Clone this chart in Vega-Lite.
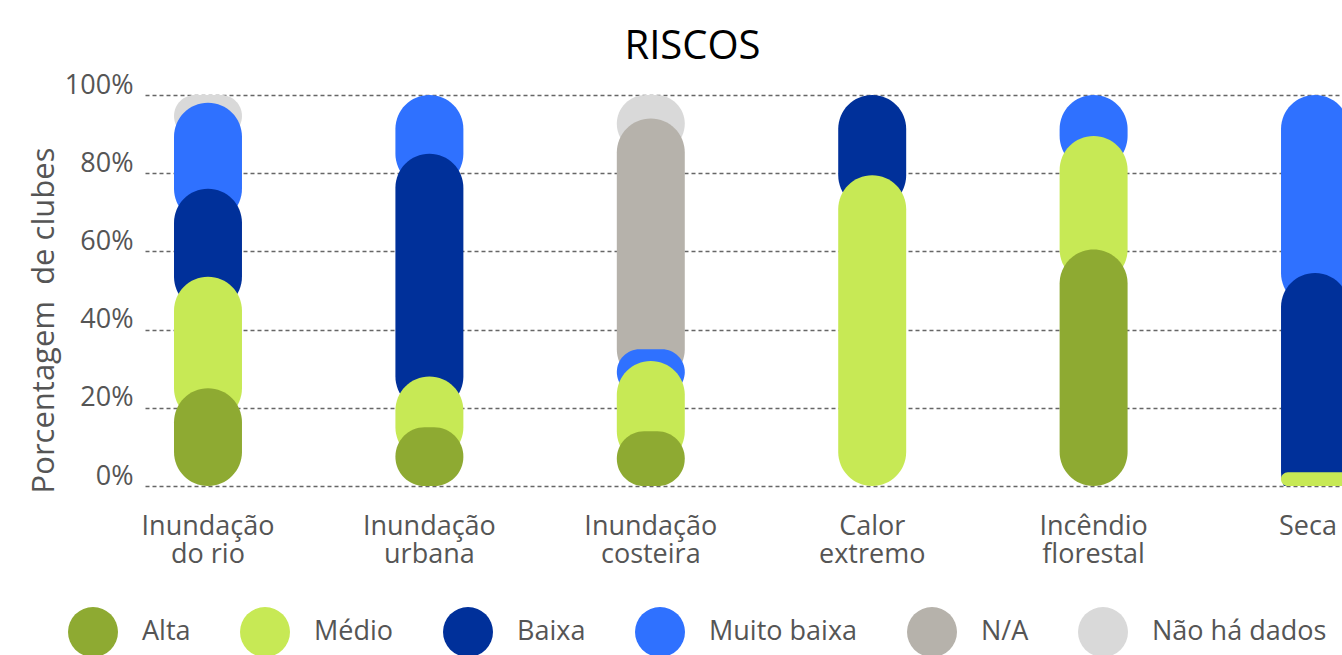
{
  "$schema": "https://vega.github.io/schema/vega-lite/v6.json",
  "width": 1197,
  "height": 391,
  "autosize": {"type": "none"},
  "padding": {"left": 145, "top": 95, "right": 0, "bottom": 169},
  "background": "white",
  "config": {"font": "Open Sans", "view": {"stroke": null}},
  "title": {"text": "RISCOS", "fontSize": 40, "fontWeight": "normal", "color": "#000000", "anchor": "middle", "dx": -51, "dy": 42, "offset": 14, "baseline": "alphabetic"},
  "data": {"values": [
    {"categoria": "Inundação do rio", "nivel": "Alta", "valor": 25},
    {"categoria": "Inundação do rio", "nivel": "Médio", "valor": 28.5},
    {"categoria": "Inundação do rio", "nivel": "Baixa", "valor": 22.5},
    {"categoria": "Inundação do rio", "nivel": "Muito baixa", "valor": 22},
    {"categoria": "Inundação do rio", "nivel": "Não há dados", "valor": 2},
    {"categoria": "Inundação urbana", "nivel": "Alta", "valor": 15},
    {"categoria": "Inundação urbana", "nivel": "Médio", "valor": 13},
    {"categoria": "Inundação urbana", "nivel": "Baixa", "valor": 57},
    {"categoria": "Inundação urbana", "nivel": "Muito baixa", "valor": 15},
    {"categoria": "Inundação costeira", "nivel": "Alta", "valor": 14},
    {"categoria": "Inundação costeira", "nivel": "Médio", "valor": 18},
    {"categoria": "Inundação costeira", "nivel": "Muito baixa", "valor": 3},
    {"categoria": "Inundação costeira", "nivel": "N/A", "valor": 59},
    {"categoria": "Inundação costeira", "nivel": "Não há dados", "valor": 6},
    {"categoria": "Calor extremo", "nivel": "Médio", "valor": 79.5},
    {"categoria": "Calor extremo", "nivel": "Baixa", "valor": 20.5},
    {"categoria": "Incêndio florestal", "nivel": "Alta", "valor": 60.5},
    {"categoria": "Incêndio florestal", "nivel": "Médio", "valor": 29},
    {"categoria": "Incêndio florestal", "nivel": "Muito baixa", "valor": 10.5},
    {"categoria": "Seca", "nivel": "Médio", "valor": 3.5},
    {"categoria": "Seca", "nivel": "Baixa", "valor": 51},
    {"categoria": "Seca", "nivel": "Muito baixa", "valor": 45.5}
  ]},
  "transform": [
    {"stack": "valor", "groupby": ["categoria"], "as": ["ini", "fim"]}
  ],
  "encoding": {
    "x": {
      "field": "categoria", "type": "nominal", "sort": null,
      "scale": {"range": [0, 1233], "paddingInner": 0.693, "paddingOuter": 0.131},
      "axis": {
        "title": null, "domain": false, "ticks": false, "labelAngle": 0,
        "labelFontSize": 27, "labelColor": "#555555", "labelPadding": 27,
        "labelBaseline": "top", "labelLineHeight": 28, "labelLimit": 300,
        "labelOffset": {"condition": {"test": "datum.value == 'Seca'", "value": -7}, "value": 0},
        "labelExpr": "indexof(datum.label, ' ') > 0 ? [slice(datum.label, 0, indexof(datum.label, ' ')), slice(datum.label, indexof(datum.label, ' ') + 1)] : datum.label"
      }
    },
    "y": {
      "field": "fim", "type": "quantitative",
      "scale": {"domain": [0, 100], "nice": false},
      "axis": {
        "values": [0, 20, 40, 60, 80, 100],
        "labelExpr": "datum.value + '%'",
        "domain": false, "ticks": false,
        "grid": true, "gridColor": "#666666", "gridDash": [4, 3], "gridWidth": 1.3,
        "labelFontSize": 27, "labelColor": "#555555", "labelPadding": 12,
        "labelBaseline": "alphabetic", "labelOffset": -2,
        "title": "Porcentagem\u00a0 de clubes", "titleFontSize": 31, "titleFontWeight": "normal",
        "titleColor": "#555555", "titleX": -92, "titleY": 225, "titleBaseline": "alphabetic", "titleAngle": 270
      }
    },
    "y2": {"field": "ini"},
    "color": {
      "field": "nivel", "type": "nominal",
      "scale": {
        "domain": ["Alta", "Médio", "Baixa", "Muito baixa", "N/A", "Não há dados"],
        "range": ["#8EAA32", "#C7E955", "#00309A", "#2F71FF", "#B6B2AB", "#D9D9D9"]
      },
      "legend": {
        "title": null, "orient": "none", "direction": "horizontal",
        "legendX": -77, "legendY": 512,
        "symbolType": "circle", "symbolSize": 2500, "symbolStrokeWidth": 0, "symbolOpacity": 1,
        "labelFontSize": 27, "labelColor": "#555555", "labelOffset": 24, "labelLimit": 400,
        "columnPadding": 49
      }
    }
  },
  "layer": [
    {
      "transform": [{"filter": "datum.ini > 0"}],
      "mark": {"type": "bar", "cornerRadiusEnd": 34, "y2Offset": 34, "clip": true},
      "encoding": {"order": {"field": "fim", "sort": "descending"}}
    },
    {
      "transform": [{"filter": "datum.ini == 0"}],
      "mark": {"type": "bar", "cornerRadius": 34}
    }
  ]
}
